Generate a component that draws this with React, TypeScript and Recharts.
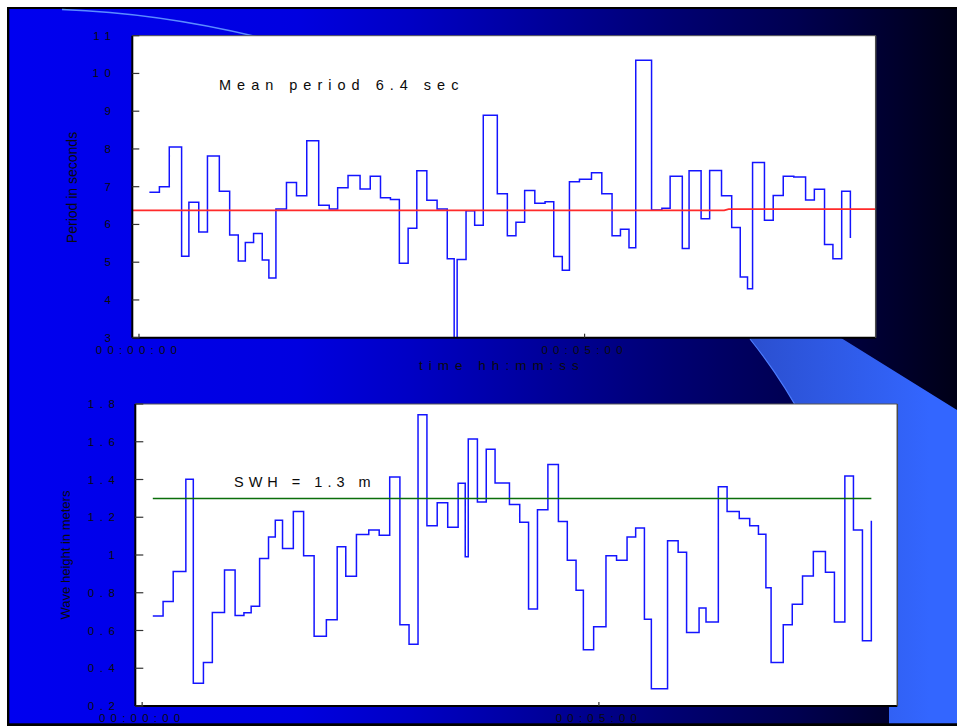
import { LineChart, Line, XAxis, YAxis, CartesianGrid } from "recharts";

// start time (s) of each wave; the last entry is where the record ends
const TIME = [
  7.0, 13.75, 20.4, 28.7, 33.6, 40.25, 46.1, 54.1, 61.05, 66.85,
  71.6, 77.15, 83.0, 87.45, 92.2, 99.3, 106.05, 112.95, 121.0, 128.1,
  133.75, 140.75, 148.85, 155.7, 162.6, 169.3, 175.3, 181.2, 187.05, 193.8,
  200.7, 207.55, 212.2, 214.2, 220.2, 226.0, 231.8, 241.25, 248.0, 253.8,
  259.65, 266.5, 273.4, 279.25, 285.0, 289.8, 296.55, 304.65, 311.6, 318.5,
  324.15, 329.9, 334.45, 345.1, 352.05, 357.6, 365.8, 370.35, 378.45, 384.2,
  392.2, 399.05, 404.8, 409.7, 413.1, 421.1, 427.0, 433.75, 440.85, 448.8,
  454.7, 461.55, 467.2, 473.1, 478.95,
];

// wave period, seconds
const PERIOD = [
  6.85, 7.0, 8.05, 5.16, 6.59, 5.8, 7.81, 6.88, 5.72, 5.03,
  5.52, 5.76, 5.06, 4.58, 6.41, 7.11, 6.76, 8.22, 6.51, 6.41,
  6.97, 7.3, 6.94, 7.28, 6.71, 6.66, 4.97, 5.9, 7.42, 6.64,
  6.41, 5.09, 1.6, 5.07, 6.36, 5.98, 8.89, 6.81, 5.7, 6.06,
  6.9, 6.56, 6.6, 5.15, 4.79, 7.13, 7.2, 7.37, 6.81, 5.7,
  5.87, 5.38, 10.35, 6.38, 6.43, 7.28, 5.36, 7.42, 6.15, 7.43,
  6.76, 5.92, 4.61, 4.3, 7.64, 6.11, 6.77, 7.28, 7.26, 6.65,
  6.93, 5.47, 5.09, 6.88, 5.64,
];

// wave height, meters
const HEIGHT = [
  0.677, 0.753, 0.912, 1.401, 0.32, 0.43, 0.696, 0.921, 0.68, 0.694,
  0.728, 0.981, 1.095, 1.184, 1.034, 1.23, 0.996, 0.569, 0.657, 1.044,
  0.887, 1.108, 1.132, 1.104, 1.413, 0.631, 0.527, 1.743, 1.155, 1.277,
  1.147, 1.38, 0.991, 1.615, 1.281, 1.56, 1.381, 1.268, 1.173, 0.714,
  1.24, 1.479, 1.178, 0.972, 0.813, 0.498, 0.62, 0.996, 0.972, 1.095,
  1.143, 0.659, 0.292, 1.076, 1.014, 0.589, 0.719, 0.645, 1.362, 1.23,
  1.194, 1.155, 1.11, 0.827, 0.43, 0.631, 0.739, 0.889, 1.019, 0.908,
  0.645, 1.419, 1.132, 0.546, 1.182,
];

const MEAN_T = [-4.5, 394, 397, 496];
const MEAN_PERIOD = [6.375, 6.375, 6.405, 6.405];
const SWH_T = [7.0, 478.95];
const SWH = [1.3, 1.3];

const TIME_DOMAIN = [-4.5, 496];
const TIME_TICKS = [0, 300];
const TIME_LABELS = ["00:00:00", "00:05:00"];
const PERIOD_TICKS = [3, 4, 5, 6, 7, 8, 9, 10, 11];
const HEIGHT_TICKS = [0.2, 0.4, 0.6, 0.8, 1, 1.2, 1.4, 1.6, 1.8];

const waves = TIME.map((t, i) => ({ t, period: PERIOD[i], height: HEIGHT[i] }));
const meanRows = MEAN_T.map((t, i) => ({ t, mean: MEAN_PERIOD[i] }));
const swhRows = SWH_T.map((t, i) => ({ t, swh: SWH[i] }));

const FONT = '"Liberation Sans", Arial, Helvetica, sans-serif';
const INK = "#0b0b0b";

/* tick labels sit outside the box, tick marks point inward (mirrored axes) */
function YTick(props: any) {
  const { x, y, payload } = props;
  return (
    <text
      x={x - 23}
      y={y}
      textAnchor="end"
      dominantBaseline="central"
      fontFamily={FONT}
      fontSize={11.5}
      letterSpacing={5.5}
      fill={INK}
    >
      {String(payload.value)}
    </text>
  );
}

function XTick(props: any) {
  const { x, y, payload } = props;
  const i = TIME_TICKS.indexOf(payload.value);
  return (
    <text
      x={x}
      y={y + 16}
      textAnchor="middle"
      dominantBaseline="central"
      fontFamily={FONT}
      fontSize={11.5}
      letterSpacing={5.2}
      fill={INK}
    >
      {TIME_LABELS[i] ?? ""}
    </text>
  );
}

const boxDark = { stroke: "#000", strokeWidth: 2 };
const boxGrey = { stroke: "#4a4a4a", strokeWidth: 1.5 };
const tickStyle = { stroke: "#333", strokeWidth: 1.2 };

function Background() {
  return (
    <svg width={957} height={726} style={{ position: "absolute", left: 0, top: 0 }}>
      <defs>
        <linearGradient id="slide" x1="0" y1="0" x2="1" y2="0">
          <stop offset="0%" stopColor="#0000f0" />
          <stop offset="30%" stopColor="#0000e0" />
          <stop offset="42%" stopColor="#0000c4" />
          <stop offset="57%" stopColor="#000096" />
          <stop offset="69%" stopColor="#000072" />
          <stop offset="82%" stopColor="#000050" />
          <stop offset="100%" stopColor="#000012" />
        </linearGradient>
        <linearGradient id="swoosh" gradientUnits="userSpaceOnUse" x1="750" y1="0" x2="930" y2="0">
          <stop offset="0%" stopColor="#2b4fcf" />
          <stop offset="100%" stopColor="#3366ff" />
        </linearGradient>
      </defs>
      <rect x={0} y={0} width={957} height={726} fill="#ffffff" />
      <rect x={7} y={7} width={960} height={719} fill="#000" />
      <rect x={9.3} y={9} width={960} height={714.3} fill="url(#slide)" />
      <path
        d="M735 300 L780 300 L957 410 L965 410 L965 723.3 L889 723.3 L889 706 C866.5 556 830 439 750 339 Z"
        fill="url(#swoosh)"
      />
      <path d="M889 706 C866.5 556 830 439 750 339" fill="none" stroke="#4d7dff" strokeWidth={1.2} />
      <path d="M62 9.5 Q160 13 262 38" fill="none" stroke="#5b8cff" strokeWidth={1.6} />
    </svg>
  );
}

function Overlay() {
  const txt = { fontFamily: FONT, fill: INK };
  return (
    <svg
      width={957}
      height={726}
      style={{ position: "absolute", left: 0, top: 0, pointerEvents: "none" }}
    >
      <text x={219} y={90} fontSize={14.5} letterSpacing={6} {...txt}>
        Mean period 6.4 sec
      </text>
      <text x={234} y={487.3} fontSize={14.5} letterSpacing={5} {...txt}>
        SWH = 1.3 m
      </text>
      <text
        x={72}
        y={187.5}
        fontSize={14}
        textAnchor="middle"
        dominantBaseline="central"
        transform="rotate(-90 72 187.5)"
        {...txt}
      >
        Period in seconds
      </text>
      <text
        x={65}
        y={555}
        fontSize={13}
        textAnchor="middle"
        dominantBaseline="central"
        transform="rotate(-90 65 555)"
        {...txt}
      >
        Wave height in meters
      </text>
      <text x={502} y={370} fontSize={13.5} letterSpacing={6} textAnchor="middle" {...txt}>
        time hh:mm:ss
      </text>
    </svg>
  );
}

export default function App() {
  return (
    <div
      style={{
        position: "absolute",
        left: 0,
        top: 0,
        width: 957,
        height: 726,
        overflow: "hidden",
      }}
    >
      <Background />

      {/* upper panel: wave period */}
      <div style={{ position: "absolute", left: 0, top: 0 }}>
        <LineChart
          width={957}
          height={380}
          margin={{ top: 35.7, right: 81.3, bottom: 42.3, left: 132.3 }}
        >
          <CartesianGrid horizontal={false} vertical={false} fill="#ffffff" xAxisId="b" yAxisId="l" />
          <XAxis
            xAxisId="b"
            orientation="bottom"
            mirror
            type="number"
            dataKey="t"
            domain={TIME_DOMAIN}
            allowDataOverflow
            ticks={TIME_TICKS}
            interval={0}
            tickSize={4}
            tickMargin={0}
            axisLine={boxDark}
            tickLine={tickStyle}
            tick={XTick}
          />
          <XAxis
            xAxisId="t"
            orientation="top"
            mirror
            type="number"
            domain={TIME_DOMAIN}
            allowDataOverflow
            ticks={TIME_TICKS}
            interval={0}
            tickSize={4}
            axisLine={{ stroke: "#555", strokeWidth: 1 }}
            tickLine={tickStyle}
            tick={false}
          />
          <YAxis
            yAxisId="l"
            orientation="left"
            mirror
            type="number"
            domain={[3, 11]}
            allowDataOverflow
            ticks={PERIOD_TICKS}
            interval={0}
            tickSize={7}
            tickMargin={0}
            axisLine={boxDark}
            tickLine={tickStyle}
            tick={YTick}
          />
          <YAxis
            yAxisId="r"
            orientation="right"
            mirror
            type="number"
            domain={[3, 11]}
            allowDataOverflow
            ticks={PERIOD_TICKS}
            interval={0}
            tickSize={9}
            axisLine={boxGrey}
            tickLine={tickStyle}
            tick={false}
          />
          <Line
            xAxisId="b"
            yAxisId="l"
            data={waves}
            dataKey="period"
            type="stepAfter"
            stroke="#1414ff"
            strokeWidth={1.5}
            dot={false}
            activeDot={false}
            isAnimationActive={false}
          />
          <Line
            xAxisId="b"
            yAxisId="l"
            data={meanRows}
            dataKey="mean"
            type="linear"
            stroke="#ff2a2a"
            strokeWidth={1.8}
            dot={false}
            activeDot={false}
            isAnimationActive={false}
          />
        </LineChart>
      </div>

      {/* lower panel: wave height */}
      <div style={{ position: "absolute", left: 0, top: 380 }}>
        <LineChart
          width={957}
          height={346}
          margin={{ top: 24, right: 59.7, bottom: 20, left: 135.3 }}
        >
          <CartesianGrid horizontal={false} vertical={false} fill="#ffffff" xAxisId="b" yAxisId="l" />
          <XAxis
            xAxisId="b"
            orientation="bottom"
            mirror
            type="number"
            dataKey="t"
            domain={TIME_DOMAIN}
            allowDataOverflow
            ticks={TIME_TICKS}
            interval={0}
            tickSize={4}
            tickMargin={0}
            axisLine={boxDark}
            tickLine={tickStyle}
            tick={XTick}
          />
          <XAxis
            xAxisId="t"
            orientation="top"
            mirror
            type="number"
            domain={TIME_DOMAIN}
            allowDataOverflow
            ticks={TIME_TICKS}
            interval={0}
            tickSize={4}
            axisLine={{ stroke: "#555", strokeWidth: 1 }}
            tickLine={tickStyle}
            tick={false}
          />
          <YAxis
            yAxisId="l"
            orientation="left"
            mirror
            type="number"
            domain={[0.2, 1.8]}
            allowDataOverflow
            ticks={HEIGHT_TICKS}
            interval={0}
            tickSize={8}
            tickMargin={0}
            axisLine={boxDark}
            tickLine={tickStyle}
            tick={YTick}
          />
          <YAxis
            yAxisId="r"
            orientation="right"
            mirror
            type="number"
            domain={[0.2, 1.8]}
            allowDataOverflow
            ticks={HEIGHT_TICKS}
            interval={0}
            tickSize={8}
            axisLine={boxGrey}
            tickLine={tickStyle}
            tick={false}
          />
          <Line
            xAxisId="b"
            yAxisId="l"
            data={waves}
            dataKey="height"
            type="stepAfter"
            stroke="#1414ff"
            strokeWidth={1.5}
            dot={false}
            activeDot={false}
            isAnimationActive={false}
          />
          <Line
            xAxisId="b"
            yAxisId="l"
            data={swhRows}
            dataKey="swh"
            type="linear"
            stroke="#0a6e0a"
            strokeWidth={1.5}
            dot={false}
            activeDot={false}
            isAnimationActive={false}
          />
        </LineChart>
      </div>

      <Overlay />
    </div>
  );
}
